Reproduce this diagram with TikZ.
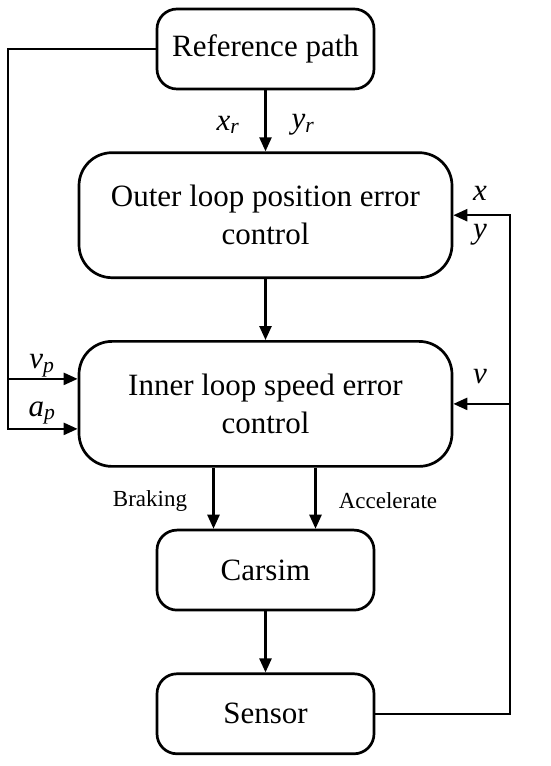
\documentclass[tikz,border=0pt]{standalone}
\usepackage{fontspec}
\setmainfont{Liberation Serif}
\usetikzlibrary{positioning, arrows.meta, calc}

\begin{document}
\begin{tikzpicture}[x=1pt, y=1pt,
      blk/.style={draw, line width=2.7pt, rounded corners=20pt,
                  minimum width=217pt, minimum height=80pt,
                  font=\fontsize{31}{38}\selectfont, align=center},
      wideblk/.style={blk, rounded corners=33pt,
                  minimum width=373pt, minimum height=125pt},
      arr/.style={-{Triangle[length=14pt, width=12pt]}, line width=2.4pt},
      lbl/.style={font=\fontsize{31}{36}\selectfont\itshape, inner sep=0pt},
      note/.style={font=\fontsize{23}{28}\selectfont, inner sep=0pt}]
    \useasboundingbox (0,0) rectangle (550,766);
    \node[blk] (ref) at (265.5,717) {Reference path};
    \node[wideblk, below=61pt of ref] (outer) {Outer loop position error\\control};
    \node[wideblk, below=61pt of outer] (inner) {Inner loop speed error\\control};
    \node[blk, below=61pt of inner] (carsim) {Carsim};
    \node[blk, below=61pt of carsim] (sensor) {Sensor};
    % signal labels
    \node[lbl] (xr) at (228,641) {x\textsubscript{r}};
    \node[lbl] (yr) at (303,641) {y\textsubscript{r}};
    \node[lbl] (xfb) at (480,573) {x};
    \node[lbl] (yfb) at (480,531) {y};
    \node[lbl] (vp) at (42,400) {v\textsubscript{p}};
    \node[lbl] (ap) at (42,353) {a\textsubscript{p}};
    \node[lbl] (vfb) at (480,389) {v};
    \node[note] (brk) at (150,265) {Braking};
    \node[note] (acc) at (388,265) {Accelerate};
    % forward path
    \draw[arr](ref)--(outer); \draw[arr](outer)--(inner);
    \draw[arr]([xshift=-52pt]inner.south)--([xshift=-52pt]carsim.north);
    \draw[arr]([xshift=50pt]inner.south)--([xshift=50pt]carsim.north);
    \draw[arr](carsim)--(sensor);
    % feedback
    \coordinate (vpin) at ([yshift=25pt]inner.west);
    \coordinate (apin) at ([yshift=-25pt]inner.west);
    \coordinate (lx) at (8,0);
    \coordinate (rx) at (510,0);
    \draw[arr](ref.west) -| (lx |- apin) -- (apin);
    \draw[arr](lx |- vpin) -- (vpin);
    \draw[arr](sensor.east) -| (rx |- outer.east) -- (outer.east);
    \draw[arr](rx |- inner.east) -- (inner.east);
  \end{tikzpicture}
\end{document}
